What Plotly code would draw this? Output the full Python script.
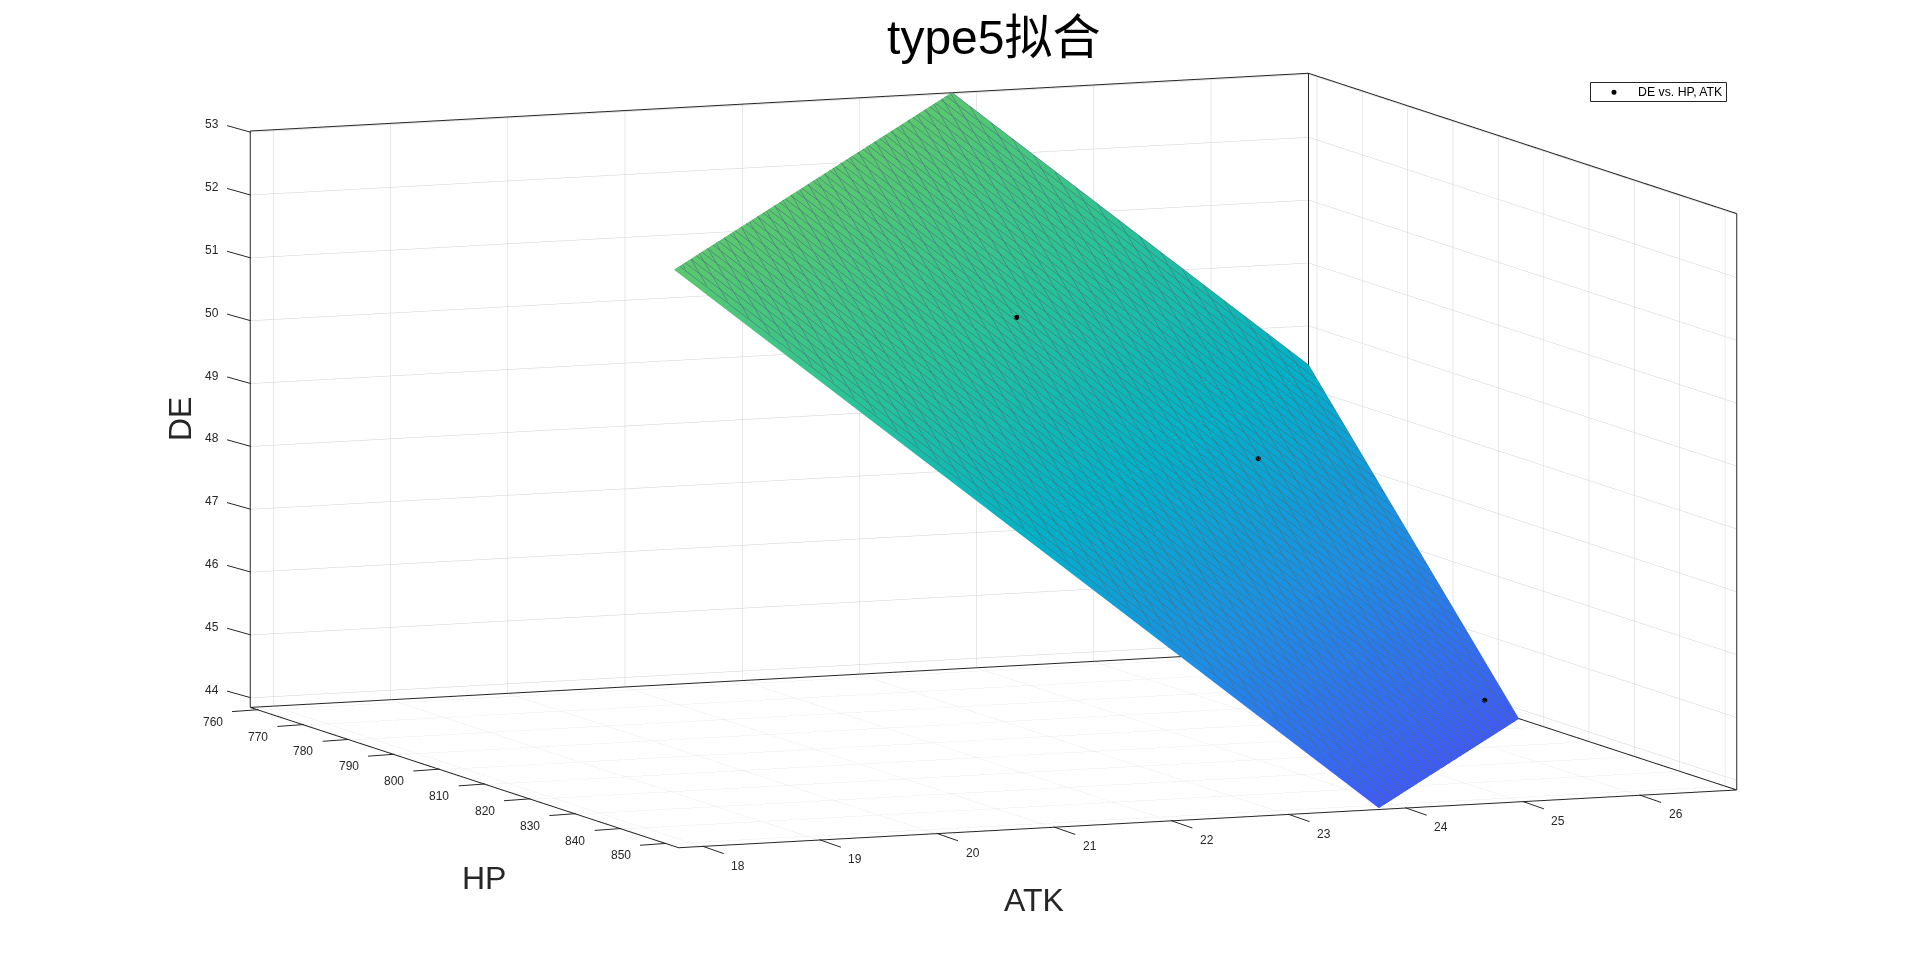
import plotly.graph_objects as go

# Box limits of the fitted view
HP_LIMITS = [758.24, 852.7]
ATK_LIMITS = [17.8, 26.83]
DE_LIMITS = [43.85, 53.02]

# Tick labels
HP_TICKS = [760, 770, 780, 790, 800, 810, 820, 830, 840, 850]
ATK_TICKS = [18, 19, 20, 21, 22, 23, 24, 25, 26]
DE_TICKS = [44, 45, 46, 47, 48, 49, 50, 51, 52, 53]

# Fitted plane at the corners of the HP / ATK window (rows follow ATK, columns HP)
FIT_HP = [758.24, 851.76]
FIT_ATK = [17.8, 26.83]
FIT_DE = [[62.16, 53.02], [48.38, 39.24]]

# Measured samples
SAMPLE_HP = [801.4, 791.1, 808.2]
SAMPLE_ATK = [22.67, 25.13, 26.40]
SAMPLE_DE = [50.58, 47.84, 44.27]

COLORS = [
    [0.0, "rgb(62,90,250)"],
    [0.25, "rgb(30,140,230)"],
    [0.5, "rgb(0,178,200)"],
    [0.75, "rgb(40,195,150)"],
    [1.0, "rgb(90,200,110)"],
]
INK = "#262626"
MESH = "rgba(0,30,50,0.7)"

hp0, hp1 = HP_LIMITS
atk0, atk1 = ATK_LIMITS
de0, de1 = DE_LIMITS

fig = go.Figure()
fig.add_trace(go.Surface(
    x=FIT_HP, y=FIT_ATK, z=FIT_DE,
    surfacecolor=FIT_DE, colorscale=COLORS, cmin=de0, cmax=de1,
    showscale=False, showlegend=False, hoverinfo="skip",
    lighting=dict(ambient=1, diffuse=0, specular=0, fresnel=0, roughness=1),
    contours=dict(
        x=dict(show=True, start=FIT_HP[0], end=FIT_HP[1], size=(FIT_HP[1] - FIT_HP[0]) / 50, color=MESH, width=1),
        y=dict(show=True, start=FIT_ATK[0], end=FIT_ATK[1], size=(FIT_ATK[1] - FIT_ATK[0]) / 50, color=MESH, width=1),
    ),
))
fig.add_trace(go.Scatter3d(
    x=SAMPLE_HP, y=SAMPLE_ATK, z=SAMPLE_DE, mode="markers",
    marker=dict(size=3, color="black"), name="DE vs. HP, ATK", showlegend=False,
))

# Box outline: the three rear uprights, the two rear top edges and the floor rectangle
edges = [
    ((hp0, atk0, de0), (hp0, atk0, de1)),
    ((hp0, atk1, de0), (hp0, atk1, de1)),
    ((hp1, atk1, de0), (hp1, atk1, de1)),
    ((hp0, atk0, de1), (hp0, atk1, de1)),
    ((hp0, atk1, de1), (hp1, atk1, de1)),
    ((hp0, atk0, de0), (hp1, atk0, de0)),
    ((hp1, atk0, de0), (hp1, atk1, de0)),
    ((hp0, atk1, de0), (hp1, atk1, de0)),
    ((hp0, atk0, de0), (hp0, atk1, de0)),
]
ex, ey, ez = [], [], []
for a, b in edges:
    ex += [a[0], b[0], None]
    ey += [a[1], b[1], None]
    ez += [a[2], b[2], None]
fig.add_trace(go.Scatter3d(
    x=ex, y=ey, z=ez, mode="lines", line=dict(color=INK, width=2),
    showlegend=False, hoverinfo="skip",
))


def axis(limits, ticks):
    # The scene range sits a hair outside the box so the outline is not clipped
    pad = (limits[1] - limits[0]) * 0.0005
    return dict(
        title=dict(text=""), range=[limits[0] - pad, limits[1] + pad], autorange=False,
        tickmode="array", tickvals=ticks, showticklabels=False, ticks="",
        showgrid=True, gridcolor="#d0d0d0", gridwidth=1, zeroline=False,
        showline=False, showbackground=False, showspikes=False,
    )


def tick(x, y, z, label, tick_dx, tick_dy, text_dx, text_dy):
    """One short tick stroke and its label, anchored to a data position on an axis."""
    return [
        dict(x=x, y=y, z=z, text=" ", showarrow=True, arrowhead=0, arrowwidth=1,
             arrowcolor=INK, ax=tick_dx, ay=tick_dy, font=dict(size=1)),
        dict(x=x, y=y, z=z, text=str(label), showarrow=False, xshift=text_dx, yshift=-text_dy,
             font=dict(family="Liberation Sans", size=12, color=INK)),
    ]


scene_notes = []
for v in HP_TICKS:
    scene_notes += tick(v, atk0, de0, v, -28, 2, -46, 12)
for v in ATK_TICKS:
    scene_notes += tick(hp1, v, de0, v, 23, 8, 36, 19.5)
for v in DE_TICKS:
    scene_notes += tick(hp0, atk0, v, v, -25, -7, -38.5, -8)


def axis_title(text, px, py, angle=0):
    return dict(text=text, xref="paper", yref="paper", x=px / 1920, y=1 - py / 954,
                xanchor="center", yanchor="middle", showarrow=False, textangle=angle,
                font=dict(family="Liberation Sans", size=32, color=INK))


fig.update_layout(
    width=1920, height=954, autosize=False,
    margin=dict(l=0, r=0, t=0, b=0), paper_bgcolor="white",
    title=dict(text="type5拟合", x=0.5176, xanchor="center", y=0.961, yanchor="middle",
               font=dict(family="Liberation Sans, Noto Sans CJK SC", size=48, color="black")),
    showlegend=False,
    shapes=[
        dict(type="rect", xref="paper", yref="paper", x0=1590.5 / 1920, x1=1726.5 / 1920,
             y0=1 - 101.5 / 954, y1=1 - 82.5 / 954, line=dict(color=INK, width=1), fillcolor="white"),
        dict(type="circle", xref="paper", yref="paper", x0=1611.5 / 1920, x1=1616.5 / 1920,
             y0=1 - 94.8 / 954, y1=1 - 89.8 / 954, line=dict(color="black", width=0), fillcolor="black"),
    ],
    annotations=[
        dict(text="DE vs. HP, ATK", xref="paper", yref="paper", x=1636 / 1920, y=1 - 92 / 954,
             xanchor="left", yanchor="middle", showarrow=False,
             font=dict(family="Liberation Sans", size=12.3, color="black")),
        axis_title("HP", 483.7, 878),
        axis_title("ATK", 1033.5, 900),
        axis_title("DE", 180, 419, -90),
    ],
    scene=dict(
        domain=dict(x=[0.0351, 1], y=[0.035, 1]),
        xaxis=axis(HP_LIMITS, HP_TICKS),
        yaxis=axis(ATK_LIMITS, ATK_TICKS),
        zaxis=axis(DE_LIMITS, DE_TICKS),
        aspectmode="manual", aspectratio=dict(x=2.4645, y=2.4845, z=1.2643),
        camera=dict(
            projection=dict(type="orthographic"),
            up=dict(x=0, y=0, z=1), center=dict(x=0, y=0, z=0),
            eye=dict(x=0.9176 * 5, y=-0.3744 * 5, z=0.1337 * 5),
        ),
        annotations=scene_notes,
    ),
)
fig.write_html("out.html")
